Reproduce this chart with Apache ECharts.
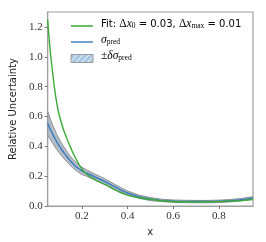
<!DOCTYPE html>
<html><head><meta charset="utf-8">
<script src="https://cdn.jsdelivr.net/npm/echarts@6/dist/echarts.min.js"></script>
<style>html,body{margin:0;padding:0;background:#fff}#c{width:266px;height:242px}</style></head>
<body><div id="c"></div>
<script>
const xs=[0.05,0.06,0.07,0.08,0.09,0.10,0.11,0.12,0.13,0.14,0.15,0.16,0.18,0.20,0.22,0.25,0.30,0.35,0.40,0.45,0.50,0.55,0.60,0.65,0.70,0.75,0.80,0.85,0.90,0.95];
const sigmaPred=[0.555,0.52,0.488,0.458,0.43,0.405,0.382,0.36,0.34,0.32,0.302,0.286,0.258,0.236,0.222,0.2,0.165,0.125,0.088,0.063,0.047,0.038,0.033,0.031,0.030,0.030,0.032,0.036,0.043,0.055];
const bandLow=[0.475,0.45,0.426,0.402,0.38,0.359,0.34,0.321,0.304,0.287,0.271,0.257,0.232,0.212,0.2,0.18,0.147,0.109,0.075,0.052,0.037,0.030,0.025,0.023,0.022,0.022,0.024,0.028,0.035,0.047];
const bandHigh=[0.635,0.59,0.55,0.514,0.48,0.451,0.424,0.399,0.376,0.353,0.333,0.315,0.284,0.26,0.244,0.22,0.183,0.141,0.101,0.074,0.057,0.046,0.041,0.039,0.038,0.038,0.040,0.044,0.051,0.063];
const fitVals=[1.25,1.06,0.92,0.79,0.69,0.615,0.56,0.51,0.47,0.43,0.395,0.36,0.30,0.25,0.215,0.182,0.145,0.105,0.074,0.056,0.044,0.036,0.031,0.029,0.028,0.029,0.030,0.033,0.037,0.044];
const yTicks=[0,0.2,0.4,0.6,0.8,1.0,1.2];
const xTicks=[0.2,0.4,0.6,0.8];

function hatch(){
  const c=document.createElement('canvas');c.width=6;c.height=6;
  const g=c.getContext('2d');
  g.fillStyle='#a9c9e6';g.fillRect(0,0,6,6);
  g.strokeStyle='rgba(255,255,255,0.85)';g.lineWidth=1;
  g.beginPath();g.moveTo(0,6);g.lineTo(6,0);g.moveTo(-3,3);g.lineTo(3,-3);g.moveTo(3,9);g.lineTo(9,3);g.stroke();
  return c;
}
const serif='Liberation Serif';
const sans='DejaVu Sans';
const rich={
  s:{fontFamily:sans,fontSize:10,color:'#222'},
  m:{fontFamily:serif,fontSize:11.5,color:'#222'},
  i:{fontFamily:serif,fontStyle:'italic',fontSize:11.5,color:'#222'},
  sbn:{fontFamily:serif,fontSize:7.5,color:'#222',padding:[5,0,0,0]}
};
const chart=echarts.init(document.getElementById('c'),null,{renderer:'canvas'});
const bandData=xs.map((x,i)=>[x,bandLow[i],bandHigh[i]]);
chart.setOption({
  animation:false,
  grid:{left:40,right:13,top:12,bottom:29,show:true,borderColor:'#a0a0a0',borderWidth:1.2,backgroundColor:'transparent'},
  xAxis:{type:'value',min:0.05,max:0.95,
    name:'x',nameLocation:'middle',nameGap:17,nameTextStyle:{fontFamily:sans,fontSize:10,color:'#222'},
    axisLine:{show:true,lineStyle:{color:'#a0a0a0',width:1.2}},
    axisTick:{show:true,customValues:xTicks,length:3,lineStyle:{color:'#777'}},
    axisLabel:{customValues:xTicks,formatter:v=>v.toFixed(1),fontFamily:serif,fontSize:11,color:'#333',margin:5},
    splitLine:{show:false}},
  yAxis:{type:'value',min:0,max:1.3,
    name:'Relative Uncertainty',nameLocation:'middle',nameGap:28,nameRotate:90,nameTextStyle:{fontFamily:sans,fontSize:10,color:'#222'},
    axisLine:{show:true,lineStyle:{color:'#a0a0a0',width:1.2}},
    axisTick:{show:true,customValues:yTicks,length:3,lineStyle:{color:'#777'}},
    axisLabel:{customValues:yTicks,formatter:v=>v.toFixed(1),fontFamily:serif,fontSize:11,color:'#333',margin:5},
    splitLine:{show:false}},
  series:[
    {type:'custom',data:bandData,encode:{x:0,y:[1,2]},clip:true,z:1,
      renderItem:function(params,api){
        if(params.dataIndex!==0) return null;
        const up=bandData.map(d=>api.coord([d[0],d[2]]));
        const lo=bandData.map(d=>api.coord([d[0],d[1]]));
        const poly=up.concat(lo.slice().reverse());
        return {type:'group',children:[
          {type:'polygon',shape:{points:poly},style:{fill:'rgba(135,145,160,0.6)'}},
          {type:'polyline',shape:{points:up},style:{stroke:'#8c9096',lineWidth:1,fill:null}},
          {type:'polyline',shape:{points:lo},style:{stroke:'#8c9096',lineWidth:1,fill:null}}
        ]};
      }},
    {type:'line',data:xs.map((x,i)=>[x,sigmaPred[i]]),smooth:true,showSymbol:false,z:2,
      lineStyle:{color:'#3a7dc0',width:1.5}},
    {type:'line',data:xs.map((x,i)=>[x,fitVals[i]]),smooth:true,showSymbol:false,z:3,
      lineStyle:{color:'#3aab35',width:1.4}}
  ],
  graphic:[
    {type:'line',shape:{x1:71,y1:26,x2:93,y2:26},style:{stroke:'#3aab35',lineWidth:1.5},z:10},
    {type:'line',shape:{x1:71,y1:42,x2:93,y2:42},style:{stroke:'#6fa3d4',lineWidth:2},z:10},
    {type:'rect',shape:{x:71,y:54.5,width:22,height:8},style:{fill:{image:hatch(),repeat:'repeat'},stroke:'#9a9a9a',lineWidth:1},z:10},
    {type:'text',left:101,top:18,z:10,style:{text:'{s|Fit: }{m|Δ}{i|x}{sbn|0}{s| = 0.03, }{m|Δ}{i|x}{sbn|max}{s| = 0.01}',rich:rich}},
    {type:'text',left:101,top:34,z:10,style:{text:'{i|σ}{sbn|pred}',rich:rich}},
    {type:'text',left:101,top:50,z:10,style:{text:'{m|±}{i|δσ}{sbn|pred}',rich:rich}}
  ]
});
</script></body></html>
